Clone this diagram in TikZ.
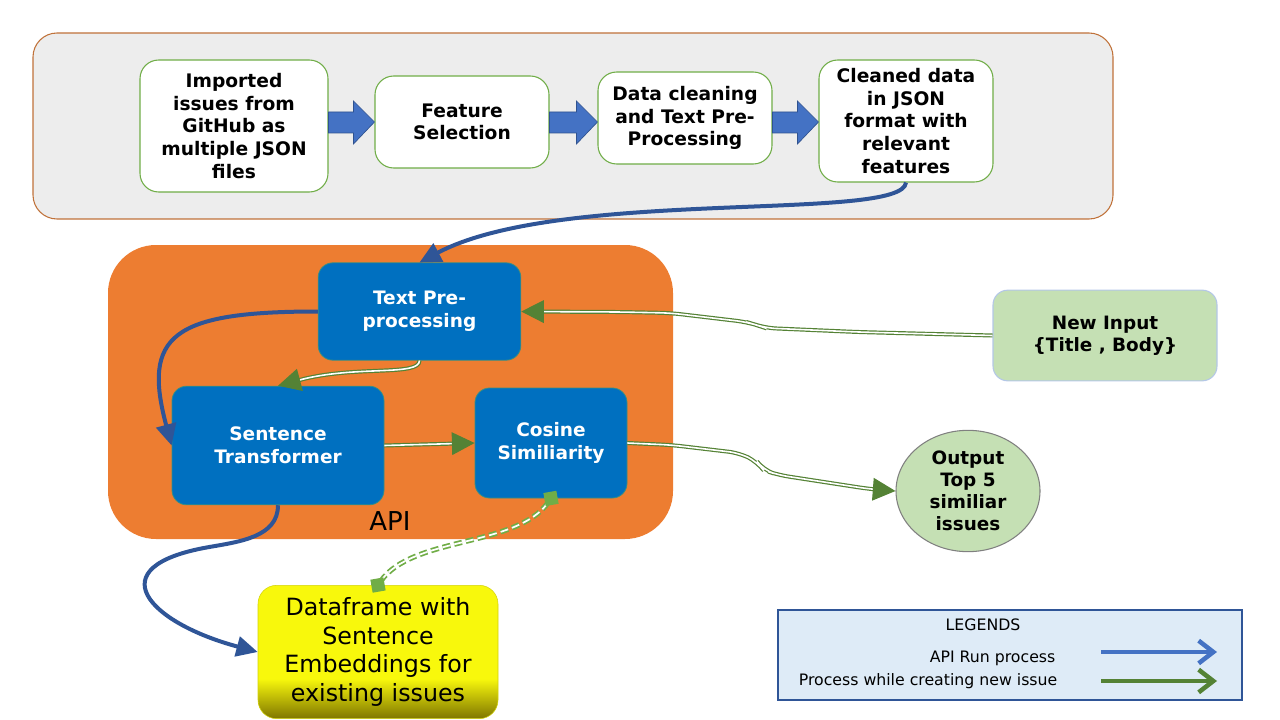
\documentclass[tikz,border=0pt]{standalone}
\usepackage{fontspec}
\setmainfont{DejaVu Sans}
\usetikzlibrary{arrows.meta,calc,shapes.geometric}

\definecolor{greybg}{HTML}{EDEDED}
\definecolor{framebrown}{HTML}{C0723A}
\definecolor{boxgreen}{HTML}{70AD47}
\definecolor{blockblue}{HTML}{4472C4}
\definecolor{blockedge}{HTML}{2F528F}
\definecolor{runblue}{HTML}{2F5597}
\definecolor{apiorange}{HTML}{ED7D31}
\definecolor{stepblue}{HTML}{0070C0}
\definecolor{newgreen}{HTML}{548235}
\definecolor{palegreen}{HTML}{C5E0B4}
\definecolor{inputedge}{HTML}{B4C7E7}
\definecolor{dfyellow}{HTML}{F8F80C}
\definecolor{dfolive}{HTML}{7F7600}
\definecolor{legendbg}{HTML}{DEEBF7}

\pgfdeclareverticalshading{dfshade}{100bp}{color(0bp)=(dfolive); color(25bp)=(dfolive);
  color(40bp)=(dfyellow); color(100bp)=(dfyellow)}

\tikzset{
  whitebox/.style={draw=boxgreen, fill=white, line width=0.8pt, rounded corners=14pt,
    inner sep=0pt, align=center, font=\bfseries\fontsize{14}{16.9}\selectfont},
  bluebox/.style={draw=boxgreen!50!stepblue, fill=stepblue, text=white, line width=0.6pt,
    rounded corners=11pt, inner sep=0pt, align=center, font=\bfseries\fontsize{13.9}{17.2}\selectfont},
  greenbox/.style={fill=palegreen, line width=0.8pt, inner sep=0pt, align=center,
    font=\bfseries\fontsize{13.8}{16.6}\selectfont},
  runflow/.style={draw=runblue, line width=3pt, -{Triangle[length=16pt,width=15pt]}},
  newflow/.style={draw=newgreen, double=white, line width=0.9pt, double distance=1.2pt,
    rounded corners=8pt, -{Triangle[length=17pt,width=17pt]}},
  dataflow/.style={draw=boxgreen, double=white, line width=1.3pt, double distance=1.3pt,
    dash pattern=on 6pt off 3pt, {Diamond[length=14pt,width=14pt]}-{Diamond[length=14pt,width=14pt]},
    shorten <=-7pt, shorten >=-7pt},
  legendarrow/.style={line width=3.4pt, -{Straight Barb[length=11pt,width=17pt]}},
}

\begin{document}
\begin{tikzpicture}[x=0.75pt,y=0.75pt]
\useasboundingbox (0,0) rectangle (1280,-720);

% data preparation
\draw[framebrown, fill=greybg, line width=0.8pt, rounded corners=18pt] (33,-33) rectangle (1113,-219);
\node[whitebox, minimum width=141pt, minimum height=99pt] (imp) at (234,-126)
  {Imported\\issues from\\GitHub as\\multiple JSON\\files};
\node[whitebox, minimum width=130.5pt, minimum height=69pt] (feat) at (462,-122)
  {Feature\\Selection};
\node[whitebox, minimum width=130.5pt, minimum height=69pt] (clean) at (685,-118)
  {Data cleaning\\and Text Pre-\\Processing};
\node[whitebox, minimum width=130.5pt, minimum height=91.5pt] (json) at (906,-121)
  {Cleaned data\\in JSON\\format with\\relevant\\features};
\foreach \a/\b in {imp/feat,clean/json,feat/clean}
  \draw[blockedge, fill=blockblue, line width=0.5pt]
    (\a.east |- 0,-112) -- ($(\b.west |- 0,-112)+(-21,0)$) -- ($(\b.west |- 0,-101)+(-21,0)$)
    -- (\b.west |- 0,-122) -- ($(\b.west |- 0,-144)+(-21,0)$) -- ($(\b.west |- 0,-133)+(-21,0)$)
    -- (\a.east |- 0,-133) -- cycle;

% API
\fill[apiorange, rounded corners=36pt] (108,-245) rectangle (673,-539);
\node[font=\fontsize{19.5}{22}\selectfont] (api) at (390,-521) {API};
\node[bluebox, minimum width=152pt, minimum height=73pt] (pre) at (419.5,-311.5)
  {Text Pre-\\processing};
\node[bluebox, minimum width=159pt, minimum height=89pt] (sent) at (278,-445.5)
  {Sentence\\Transformer};
\node[bluebox, minimum width=114pt, minimum height=82.5pt] (cos) at (551,-443)
  {Cosine\\Similiarity};

\node[greenbox, draw=inputedge, rounded corners=11pt, minimum width=168pt, minimum height=68pt]
  (newin) at (1105,-335.5) {New Input\\\{Title , Body\}};
\node[greenbox, draw=black!50, ellipse, minimum width=108pt, minimum height=91pt]
  (out) at (968,-491) {Output\\Top 5\\similiar\\issues};
\node[shading=dfshade, draw=dfyellow!85!black, rounded corners=14pt, inner sep=0pt,
  minimum width=180pt, minimum height=100pt, align=center,
  font=\fontsize{17.8}{21.5}\selectfont]
  (df) at (378,-652) {Dataframe with\\Sentence\\Embeddings for\\existing issues};

% connectors
\draw[runflow] (json.south) to[out=-95,in=28,out distance=30pt,in distance=120pt] (pre.north);
\draw[runflow] (pre.west) to[out=180,in=105,out distance=110pt,in distance=85pt] (sent.west);
\draw[runflow] (sent.south) to[out=-90,in=10] ++(-70,-42)
  to[out=190,in=165,looseness=2.5] (df.west);
\draw[newflow] (newin.west) -- ++(-135,3.5) -- ++(-92,4) -- ++(-9,3) -- ++(-10,3) -- ++(-76,9)
  -- ++(-51,1) -- (pre.east);
\draw[newflow] (pre.south) to[out=-90,in=15,out distance=12pt,in distance=60pt] (sent.north);
\draw[newflow] (sent.east) -- (cos.west);
\draw[newflow] (cos.east) -- ++(44,-2) -- ++(68,-8) -- ++(18,-9) -- ++(6,-8) -- ++(15,-5)
  -- ++(91,-14) -- (out.west);
\draw[dataflow] (df.north) to[out=55,in=-125,out distance=45pt,in distance=45pt] (cos.south);

% legend
\draw[runblue, fill=legendbg, line width=0.8pt] (778,-610) rectangle (1242,-700);
\node[font=\fontsize{11.8}{14}\selectfont, anchor=base] (legtitle) at (983,-630) {LEGENDS};
\node[font=\fontsize{11.8}{14}\selectfont, anchor=base east] (legrun) at (1060,-662) {API Run process};
\node[font=\fontsize{11.8}{14}\selectfont, anchor=base east] (legnew) at (1062,-685) {Process while creating new issue};
\coordinate (runA) at (1101,-652);
\coordinate (runB) at (1217,-652);
\coordinate (newA) at (1101,-681);
\coordinate (newB) at (1217,-681);
\draw[legendarrow, blockblue] (runA) -- (runB);
\draw[legendarrow, newgreen] (newA) -- (newB);

\end{tikzpicture}
\end{document}
